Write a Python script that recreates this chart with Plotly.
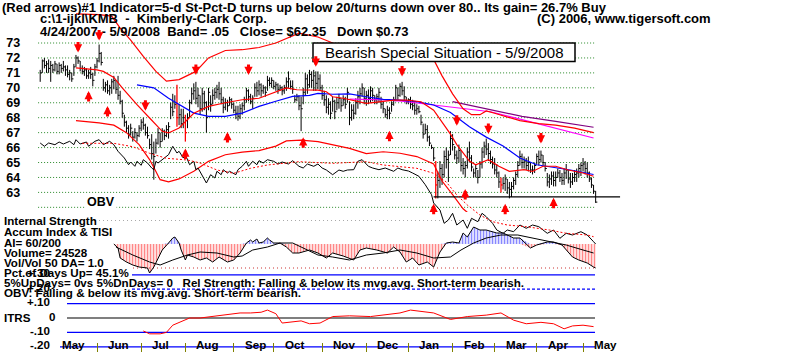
import plotly.graph_objects as go
import numpy as np

# ---------------- DATA (trading-day index 0 = 4/24/2007 ... 264 = 5/9/2008) ----------------
high = [71.2, 71.9, 72.0, 71.8, 71.9, 71.8, 71.6, 71.8, 71.6, 71.7,
        71.6, 71.8, 71.5, 71.5, 71.2, 71.0, 71.6, 72.2, 72.1, 71.8,
        71.5, 71.4, 71.3, 71.2, 71.4, 71.0, 71.6, 72.0, 72.9, 72.4,
        70.6, 70.4, 70.5, 70.2, 70.6, 70.8, 70.5, 70.8, 69.8, 69.2,
        68.2, 67.8, 67.5, 67.6, 67.1, 67.3, 67.0, 67.5, 67.9, 68.0,
        67.6, 67.4, 66.6, 66.9, 66.4, 66.6, 67.3, 67.0, 67.3, 67.2,
        67.5, 67.7, 69.0, 69.6, 69.5, 70.2, 68.9, 68.6, 68.6, 68.2,
        68.3, 69.2, 70.0, 70.3, 70.4, 70.0, 69.5, 70.0, 69.8, 69.1,
        70.0, 69.5, 69.9, 70.0, 70.2, 70.4, 70.0, 69.4, 69.3, 69.2,
        69.4, 69.3, 69.0, 68.8, 68.8, 68.9, 69.0, 69.4, 70.0, 69.9,
        69.6, 69.5, 70.3, 70.4, 70.5, 70.3, 70.2, 70.1, 70.8, 70.7,
        70.7, 70.5, 70.4, 70.3, 70.2, 70.1, 70.2, 70.7, 71.1, 70.5,
        70.5, 69.5, 69.6, 69.5, 69.4, 70.0, 71.0, 70.9, 71.2, 71.1,
        71.2, 71.1, 71.1, 70.9, 70.2, 69.8, 69.5, 69.3, 69.1, 69.4,
        69.2, 69.4, 69.6, 69.3, 69.5, 69.4, 70.0, 69.1, 68.9, 68.9,
        69.3, 69.8, 70.0, 70.3, 70.0, 69.8, 69.9, 70.1, 70.0, 69.5,
        69.6, 70.0, 69.4, 69.1, 68.6, 68.8, 68.7, 69.1, 69.4, 70.2,
        70.0, 70.3, 70.4, 70.1, 69.4, 69.3, 69.4, 69.2, 69.1, 68.9,
        68.8, 68.2, 67.6, 67.6, 67.5, 66.8, 66.2, 66.0, 65.1, 64.4,
        65.1, 64.9, 65.8, 66.0, 65.8, 67.1, 66.9, 66.1, 65.8, 66.2,
        65.8, 65.3, 65.1, 66.0, 66.4, 65.5, 64.6, 64.9, 64.5, 65.1,
        66.0, 66.4, 66.6, 66.3, 65.8, 65.4, 65.3, 64.9, 64.4, 64.0,
        64.0, 64.2, 63.9, 63.7, 63.7, 64.0, 64.4, 65.1, 65.8, 65.6,
        65.4, 65.3, 65.4, 65.0, 64.8, 65.0, 65.6, 65.8, 65.8, 65.5,
        65.0, 64.3, 64.2, 64.4, 64.4, 64.4, 64.6, 64.5, 64.3, 64.6,
        64.9, 64.5, 64.3, 64.3, 64.5, 64.6, 64.9, 65.0, 65.3, 65.1,
        65.0, 64.4, 64.0, 63.5, 63.1]
low = [70.4, 71.0, 71.3, 71.0, 71.0, 70.4, 71.0, 71.1, 70.9, 70.9,
       71.0, 71.1, 70.8, 70.7, 70.5, 70.4, 70.8, 71.4, 71.6, 71.1,
       70.9, 70.8, 70.6, 70.6, 70.6, 70.1, 70.8, 71.3, 71.7, 71.5,
       69.8, 69.7, 69.6, 69.5, 69.6, 69.9, 69.6, 69.2, 68.9, 68.0,
       67.4, 67.0, 66.6, 66.8, 66.4, 66.6, 66.4, 66.7, 67.1, 67.2,
       66.8, 66.6, 65.9, 65.2, 63.85, 65.6, 66.2, 66.0, 66.4, 66.5,
       66.7, 66.6, 67.9, 68.1, 68.6, 67.4, 67.5, 67.3, 67.3, 66.4,
       67.3, 68.0, 68.9, 69.2, 68.9, 68.7, 68.2, 68.4, 68.5, 67.0,
       68.5, 68.4, 68.9, 69.2, 69.3, 69.2, 68.9, 68.3, 68.5, 68.4,
       68.8, 68.6, 68.3, 67.9, 67.8, 67.9, 68.2, 68.5, 69.0, 69.1,
       68.9, 68.6, 69.4, 69.4, 69.5, 69.4, 69.6, 69.4, 69.8, 70.1,
       70.0, 69.9, 69.8, 69.6, 69.8, 69.5, 69.6, 69.8, 70.0, 69.9,
       69.6, 69.0, 69.1, 68.5, 67.1, 68.9, 69.5, 69.6, 70.0, 70.0,
       69.8, 69.8, 69.9, 69.8, 69.2, 68.8, 68.3, 68.2, 67.9, 68.4,
       67.9, 68.5, 68.6, 68.4, 68.8, 68.6, 69.0, 67.5, 67.8, 67.9,
       68.2, 68.6, 68.9, 69.4, 68.9, 68.8, 68.9, 69.0, 69.1, 68.9,
       68.9, 69.0, 68.6, 68.3, 68.0, 67.9, 67.9, 68.4, 68.8, 69.1,
       69.2, 69.4, 69.5, 69.1, 68.9, 68.9, 68.6, 68.5, 68.2, 68.2,
       68.3, 67.5, 66.6, 66.9, 66.4, 66.1, 65.9, 65.1, 62.6, 62.6,
       63.3, 63.5, 64.0, 64.6, 63.7, 65.5, 65.8, 65.2, 64.9, 65.0,
       64.4, 64.2, 64.0, 64.6, 65.0, 64.4, 64.0, 64.0, 63.6, 64.0,
       64.6, 65.3, 65.5, 65.1, 64.9, 64.6, 64.2, 64.0, 63.3, 63.0,
       63.2, 63.1, 62.9, 62.6, 62.7, 63.2, 63.5, 64.0, 64.8, 64.6,
       64.6, 64.5, 64.4, 64.3, 64.2, 64.3, 64.9, 64.8, 65.0, 64.8,
       64.4, 63.4, 63.3, 63.5, 63.4, 63.4, 64.0, 63.7, 63.5, 63.5,
       63.9, 63.6, 63.3, 63.5, 63.7, 63.7, 64.0, 64.1, 64.4, 64.2,
       64.0, 63.7, 63.3, 62.9, 62.3]
close = [71.0, 71.8, 71.5, 71.6, 71.3, 71.5, 71.2, 71.6, 71.1, 71.5,
         71.3, 71.4, 71.2, 70.9, 71.0, 70.6, 71.4, 72.0, 71.8, 71.3,
         71.1, 71.2, 70.8, 71.0, 70.9, 70.5, 71.4, 71.8, 72.3, 71.7,
         70.0, 70.2, 69.8, 70.0, 70.4, 70.5, 69.9, 69.5, 69.1, 68.3,
         67.7, 67.3, 66.9, 67.3, 66.7, 67.0, 66.8, 67.3, 67.7, 67.5,
         67.0, 66.8, 66.2, 65.6, 65.4, 66.3, 67.0, 66.4, 67.1, 66.8,
         67.2, 67.4, 68.7, 68.4, 68.9, 68.0, 68.2, 67.6, 68.0, 67.0,
         68.0, 69.0, 69.6, 69.8, 69.3, 69.5, 68.6, 69.6, 69.0, 68.0,
         69.7, 68.9, 69.5, 69.7, 69.9, 69.6, 69.2, 68.7, 69.0, 68.8,
         69.2, 68.9, 68.5, 68.3, 68.1, 68.6, 68.8, 69.2, 69.8, 69.4,
         69.1, 69.3, 70.0, 69.8, 70.2, 69.8, 70.0, 69.7, 70.5, 70.3,
         70.5, 70.1, 70.2, 69.9, 70.0, 69.8, 70.0, 70.4, 70.6, 70.1,
         69.9, 69.2, 69.4, 68.8, 68.6, 69.7, 70.6, 70.2, 70.9, 70.5,
         70.8, 70.3, 70.6, 70.0, 69.5, 69.2, 68.7, 68.9, 68.3, 69.1,
         68.4, 69.0, 69.3, 68.8, 69.2, 68.9, 69.7, 68.0, 68.5, 68.3,
         69.0, 69.4, 69.6, 70.0, 69.3, 69.5, 69.3, 69.8, 69.5, 69.2,
         69.4, 69.7, 68.9, 68.6, 68.2, 68.5, 68.3, 68.9, 69.2, 70.0,
         69.5, 70.1, 69.8, 69.4, 69.1, 69.2, 68.9, 68.8, 68.5, 68.6,
         68.4, 67.7, 66.9, 67.2, 66.7, 66.3, 66.0, 65.3, 63.5, 63.8,
         64.6, 64.2, 65.4, 65.2, 65.5, 66.6, 66.2, 65.5, 65.3, 65.8,
         64.8, 64.6, 64.8, 65.7, 65.3, 64.7, 64.3, 64.6, 64.0, 64.9,
         65.7, 66.1, 65.9, 65.6, 65.2, 64.9, 64.5, 64.3, 63.7, 63.5,
         63.6, 63.9, 63.3, 63.2, 63.4, 63.8, 64.2, 64.8, 65.4, 65.0,
         65.1, 64.8, 65.0, 64.5, 64.5, 64.8, 65.4, 65.2, 65.5, 65.0,
         64.6, 63.7, 63.9, 64.1, 63.8, 64.0, 64.3, 64.0, 63.8, 64.3,
         64.5, 63.9, 63.7, 64.0, 64.2, 64.3, 64.6, 64.8, 64.9, 64.6,
         64.3, 63.9, 63.5, 63.08, 62.35]
red_bar_days = [65, 69, 188, 219]

# 5% bands and moving averages (day, price)
upper_days = [17, 28, 34, 38, 43, 49, 55, 60, 66, 74, 80, 88, 96, 104, 112, 119, 123, 132, 139, 147,
              157, 166, 176, 183, 187, 191, 196, 201, 205, 209, 212, 216, 221, 228, 237, 245, 254, 263]
upper = [74.95, 74.9, 74.8, 74.0, 73.2, 72.1, 71.1, 70.45, 70.55, 71.1, 72.0, 72.5, 72.55, 72.7, 73.0, 73.4,
         73.66, 73.4, 73.0, 72.7, 72.6, 72.5, 72.4, 72.2, 71.9, 70.8, 69.6, 68.6, 68.2, 68.2, 68.45, 68.3,
         68.1, 67.8, 67.6, 67.5, 67.3, 67.0]
mid_days = [17, 27, 30, 35, 39, 46, 52, 58, 61, 66, 73, 80, 88, 96, 104, 111, 117, 122, 128, 132,
            136, 139, 144, 151, 155, 162, 168, 174, 181, 187, 191, 195, 198, 204, 207, 213, 218, 223, 230, 234,
            239, 245, 251, 258, 263]
mid = [71.33, 71.2, 71.1, 70.7, 70.0, 68.87, 67.98, 67.09, 66.98, 67.31, 68.3, 68.76, 69.0, 69.2, 69.3, 69.65,
       70.0, 69.87, 69.87, 69.85, 69.74, 69.4, 69.3, 69.07, 68.96, 69.07, 69.18, 69.18, 69.07, 68.5, 67.7, 66.9,
       66.2, 65.1, 64.85, 65.19, 64.75, 64.41, 64.52, 64.4, 64.75, 64.75, 64.5, 64.3, 64.08]
lower_days = [17, 28, 35, 41, 47, 52, 55, 57, 61, 66, 73, 80, 88, 96, 104, 112, 117, 124, 132, 139,
              147, 155, 163, 171, 179, 187, 191, 196, 201, 207, 214, 223, 238, 263]
lower = [67.8, 67.65, 67.5, 67.0, 66.2, 65.2, 64.4, 63.85, 63.7, 63.9, 64.41, 65.08, 65.52, 65.7, 65.8, 66.1,
         66.45, 66.5, 66.4, 66.17, 65.95, 65.6, 65.72, 65.62, 65.4, 64.9, 63.76, 62.85, 61.9, 61.2, 61.0, 60.8,
         61.0, 60.9]
ma50_days = [46, 54, 61, 66, 73, 80, 88, 96, 104, 112, 120, 128, 132, 139, 147, 155, 163, 171, 179, 187,
             195, 204, 212, 220, 228, 236, 244, 252, 263]
ma50 = [70.2, 70.0, 69.3, 68.87, 68.31, 68.09, 68.09, 68.31, 68.76, 69.1, 69.43, 69.5, 69.63, 69.57, 69.59,
        69.4, 69.23, 69.18, 69.07, 68.85, 68.35, 67.4, 66.7, 66.1, 65.3, 64.85, 64.7, 64.5, 64.2]
mag_days = [147, 162, 172, 184, 198, 214, 229, 245, 263]
mag = [69.25, 69.2, 69.1, 68.9, 68.7, 68.4, 67.87, 67.31, 66.64]
pur_days = [196, 214, 229, 245, 263]
pur = [69.07, 68.54, 68.09, 67.76, 67.36]

support_level = 62.7
support_days = [187, 275.6]

# signal arrows
down_arrow_days = [18, 28, 50, 74, 99, 131, 172, 198, 213, 238]
down_arrow_price = [72.7, 73.5, 68.8, 71.2, 71.2, 71.75, 71.1, 67.8, 67.25, 66.6]
up_arrow_days = [23, 32, 69, 89, 125, 166, 187, 202, 221, 244]
up_arrow_price = [69.45, 68.45, 65.6, 66.7, 66.36, 66.8, 61.9, 62.9, 61.9, 62.3]

# OBV (scaled units) and its moving average
obv_days = [0, 2, 4, 7, 9, 11, 14, 16, 17, 19, 22, 23, 26, 28, 30, 33, 35, 37, 40, 42,
            43, 45, 46, 48, 49, 51, 53, 54, 55, 56, 59, 61, 63, 65, 66, 68, 69, 71, 73, 74,
            75, 77, 79, 81, 83, 84, 86, 87, 89, 90, 93, 94, 96, 98, 99, 101, 103, 104, 106, 108,
            111, 113, 115, 118, 120, 123, 125, 127, 130, 132, 134, 136, 139, 142, 144, 146, 149, 151, 153, 156,
            158, 161, 164, 168, 170, 172, 175, 177, 180, 183, 186, 187, 190, 192, 194, 196, 198, 201, 203, 205,
            208, 210, 212, 215, 217, 220, 222, 225, 228, 231, 234, 237, 241, 244, 247, 250, 253, 257, 260, 263,
            264]
obv = [107, 103.7, 107, 105.3, 108, 106, 108.7, 105.3, 110.3, 106, 108, 103.7, 108.7, 110.3, 105.3, 108.7,
       105.3, 98.7, 92, 85.3, 88, 83.7, 88.7, 84.7, 90.3, 87, 82, 80.3, 88.7, 87, 92, 95.3, 103.7, 97, 98.7,
       92, 95.3, 85.3, 88.7, 80.3, 82, 73.7, 67, 75.3, 72, 78.7, 75.3, 80.3, 77, 78.7, 75.3, 80.3, 83.7, 88.7,
       83.7, 88.7, 85.3, 89.3, 87, 90.3, 88.7, 86, 88, 86, 89.3, 83.7, 82, 86, 83.7, 86, 82, 80, 75.3, 80,
       78.7, 80, 80.3, 88.7, 90.3, 83.7, 82, 80.3, 82, 78.7, 82, 80.3, 79, 77, 73.7, 65.3, 55.3, 47, 40, 26.7,
       30, 36.7, 25, 30, 21.7, 31.7, 28.3, 36.7, 33.3, 26.7, 20, 16.7, 20, 18.3, 25, 21.7, 25, 23.3, 16.7, 20,
       11.7, 16.7, 15, 18.3, 15, 8.3, 6]
obv_ma_days = [20, 35, 44, 52, 60, 70, 76, 84, 92, 100, 108, 123, 139, 155, 163, 171, 179, 187, 193, 198,
               203, 209, 215, 222, 231, 242, 250, 260, 263]
obv_ma = [106.7, 106.7, 103.3, 96.7, 91.7, 90, 87, 80, 76.7, 81.7, 85, 88.3, 86.7, 88.3, 85, 83.3, 81.7,
          76.7, 68, 55, 45, 35, 28.3, 25, 23.3, 20, 16.7, 15, 13.3]

# Accumulation index and its moving average
ai_days = [35, 37, 38, 41, 44, 47, 51, 52, 54, 56, 58, 61, 63, 64, 66, 67, 69, 70, 73, 76,
           79, 82, 85, 89, 92, 95, 98, 100, 101, 103, 104, 106, 108, 109, 111, 114, 117, 120, 123, 128,
           132, 136, 139, 144, 149, 152, 155, 160, 165, 168, 171, 174, 177, 180, 184, 187, 190, 193, 196, 199,
           201, 203, 206, 209, 212, 217, 220, 225, 228, 233, 236, 241, 244, 248, 250, 253, 256, 260, 263, 264]
ai = [0.0, -0.04, -0.14, -0.18, -0.21, -0.23, -0.24, -0.29, -0.23, -0.14, -0.06, 0.01, 0.06, 0.07, 0.01,
      -0.06, -0.16, -0.11, -0.13, -0.16, -0.14, -0.18, -0.13, -0.18, -0.16, -0.09, 0.01, 0.04, 0.02, 0.05,
      0.01, 0.02, 0.06, 0.04, 0.01, 0.01, -0.03, -0.09, -0.09, -0.06, -0.09, -0.14, -0.09, -0.12, -0.16,
      -0.06, -0.04, -0.06, -0.09, -0.03, -0.08, -0.18, -0.14, -0.21, -0.18, -0.23, -0.08, 0.01, 0.02, 0.01,
      0.11, 0.07, 0.17, 0.14, 0.14, 0.11, 0.11, 0.06, 0.06, -0.04, -0.01, 0.02, 0.02, -0.01, -0.06, -0.13,
      -0.16, -0.19, -0.23, -0.24]
ai_ma_days = [36, 44, 52, 57, 63, 70, 76, 84, 92, 96, 101, 108, 114, 120, 124, 132, 139, 147, 155, 163,
              171, 179, 187, 195, 200, 206, 212, 219, 227, 234, 242, 250, 258, 263]
ai_ma = [-0.03, -0.11, -0.18, -0.21, -0.16, -0.11, -0.08, -0.09, -0.13, -0.12, -0.06, -0.03, 0.01, 0.01,
         -0.03, -0.11, -0.13, -0.16, -0.11, -0.09, -0.06, -0.09, -0.14, -0.13, -0.06, 0.01, 0.06, 0.09, 0.09,
         0.06, 0.02, -0.01, -0.06, -0.09]
ai_guides = [0.24, -0.24]

# ITRS (relative strength)
itrs_days = [49, 52, 57, 60, 63, 66, 71, 76, 81, 85, 90, 95, 100, 105, 108, 112, 115, 119, 124, 128,
             133, 139, 147, 157, 162, 171, 176, 187, 195, 203, 212, 219, 225, 231, 238, 244, 249, 253, 258, 263]
itrs = [-0.09, -0.11, -0.11, -0.10, -0.05, -0.03, 0.0, 0.0, 0.01, 0.02, 0.03, 0.035, 0.035, 0.04, 0.055,
        0.03, -0.035, -0.03, -0.02, -0.04, -0.035, 0.01, 0.015, 0.01, 0.02, 0.035, 0.055, 0.035, -0.01, 0.01,
        0.02, 0.035, -0.015, -0.04, -0.03, -0.04, -0.075, -0.055, -0.05, -0.06]
itrs_levels = [0.3, 0.2, 0.1, 0.0, -0.1, -0.2]
itrs_labels = ["+.30", "+.20", "+.10", "0", "-.10", "-.20"]

price_ticks = list(range(63, 74))
grid_levels = list(range(62, 74))
month_starts = [5, 27, 48, 69, 92, 111, 134, 155, 175, 196, 216, 236, 258]
month_labels = ["May", "Jun", "Jul", "Aug", "Sep", "Oct", "Nov", "Dec", "Jan", "Feb", "Mar", "Apr", "May"]

# ---------------- FIGURE ----------------
W, H = 800, 352
FONT = "Liberation Sans"
def py(y):
    return 1 - y / H
def nb(s):
    return s.replace(" ", "\u00a0")

fig = go.Figure()

def line(xs, ys, color, yaxis="y", width=1.0, dash=None):
    fig.add_trace(go.Scatter(x=xs, y=ys, mode="lines", xaxis="x", yaxis=yaxis,
                             line=dict(color=color, width=width, dash=dash),
                             hoverinfo="skip", showlegend=False))

# Accumulation index bars (striped fill) and lines
ai_arr = np.array(ai)
for part, col in ((np.minimum(ai_arr, 0), "#ff0000"), (np.maximum(ai_arr, 0), "#0000ff")):
    fig.add_trace(go.Scatter(x=ai_days, y=part, mode="lines", yaxis="y3", xaxis="x",
                             line=dict(width=0, color=col), fill="tozeroy", fillcolor="rgba(0,0,0,0)",
                             fillpattern=dict(shape="|", fgcolor=col, bgcolor="rgba(0,0,0,0)",
                                              size=3, solidity=0.5),
                             hoverinfo="skip", showlegend=False))
line(ai_days, ai, "black", "y3", 1)
line(ai_ma_days, ai_ma, "black", "y3", 1)

# OBV
line(obv_days, obv, "black", "y2", 1)
line(obv_ma_days, obv_ma, "#ff0000", "y2", 1, "2px,2px")

# ITRS
line(itrs_days, itrs, "#ff0000", "y4", 1)

# Price bars
bx, by, rx, ry = [], [], [], []
for i, (h, l, c) in enumerate(zip(high, low, close)):
    tx, ty = (rx, ry) if i in red_bar_days else (bx, by)
    tx += [i, i, None, i, i + 0.8, None]
    ty += [l, h, None, c, c, None]
fig.add_trace(go.Scatter(x=bx, y=by, mode="lines", line=dict(color="black", width=1),
                         xaxis="x", yaxis="y", hoverinfo="skip", showlegend=False))
fig.add_trace(go.Scatter(x=rx, y=ry, mode="lines", line=dict(color="#ff0000", width=1.3),
                         xaxis="x", yaxis="y", hoverinfo="skip", showlegend=False))

# Bands and averages
line(pur_days, pur, "#800080", "y", 1.2)
line(mag_days, mag, "#ff00ff", "y", 1.2)
line(ma50_days, ma50, "#0000ff", "y", 1.2)
line(upper_days, upper, "#ff0000", "y", 1.2)
line(mid_days, mid, "#ff0000", "y", 1.2)
line(lower_days, lower, "#ff0000", "y", 1.2)
line(support_days, [support_level, support_level], "black", "y", 1.2)

# ---------------- SHAPES ----------------
shapes = []
for g in grid_levels:
    shapes.append(dict(type="line", xref="x", yref="y", x0=-1, x1=264, y0=g, y1=g, layer="below",
                       line=dict(color="#2a8a2a", width=1, dash="1px,2px")))
for lv in itrs_levels:
    x0 = 132 if lv > 0.15 else (60 if lv < -0.15 else 67)
    col = "black" if lv == 0 else "#0000ff"
    dash = "3px,2px" if abs(lv - 0.2) < 1e-9 else None
    shapes.append(dict(type="line", xref="paper", yref="y4", x0=x0 / W, x1=595 / W, y0=lv, y1=lv,
                       layer="below", line=dict(color=col, width=1.2, dash=dash)))
shapes.append(dict(type="line", xref="paper", yref="y3", x0=95 / W, x1=595 / W, y0=ai_guides[0],
                   y1=ai_guides[0], layer="below", line=dict(color="#555555", width=1, dash="1px,3px")))
shapes.append(dict(type="line", xref="paper", yref="y3", x0=133 / W, x1=595 / W, y0=ai_guides[1],
                   y1=ai_guides[1], layer="below", line=dict(color="#cc3333", width=1, dash="1px,3px")))
# title box
shapes.append(dict(type="rect", xref="paper", yref="paper", x0=313 / W, x1=575 / W, y0=py(61.5), y1=py(43),
                   fillcolor="white", line=dict(color="black", width=1.5), layer="above"))

# ---------------- ANNOTATIONS ----------------
ann = []
bold = dict(family=FONT, size=11.6, color="black", weight="bold")
bold_top = dict(family=FONT, size=13, color="black", weight="bold")
top_texts = [
    (0, 7, "(Red arrows)#1 Indicator=5-d St-Pct-D turns up below 20/turns down over 80.. Its gain= 26.7% Buy"),
    (38, 19, "c:\\1-ijkl\\KMB  -  Kimberly-Clark Corp."),
    (535, 19, "(C) 2006, www.tigersoft.com"),
    (38, 31, "4/24/2007 - 5/9/2008  Band= .05   Close= $62.35   Down $0.73"),
]
for x, y, t in top_texts:
    ann.append(dict(x=x / W, y=py(y), xref="paper", yref="paper", text=nb(t), showarrow=False,
                    xanchor="left", yanchor="middle", font=bold_top))
texts = [
    (2, 220, "Internal Strength"),
    (2, 231, "Accum Index & TISI"),
    (2, 242, "AI= 60/200"),
    (2, 252, "Volume= 24528"),
    (2, 262, "Vol/Vol 50 DA= 1.0"),
    (2, 272, "Pct.of Days Up= 45.1%"),
    (2, 282, "5%UpDays= 0vs 5%DnDays= 0   Rel Strength: Falling & below its mvg.avg. Short-term bearish."),
    (2, 292, "OBV: Falling & below its mvg.avg. Short-term bearish."),
    (2, 317, "ITRS"),
]
for x, y, t in texts:
    ann.append(dict(x=x / W, y=py(y), xref="paper", yref="paper", text=nb(t), showarrow=False,
                    xanchor="left", yanchor="middle", font=bold))
ann.append(dict(x=85 / W, y=py(202), xref="paper", yref="paper", text="OBV", showarrow=False,
                xanchor="left", yanchor="middle", font=dict(family=FONT, size=12.5, color="black", weight="bold"),
                bgcolor="white"))
ann.append(dict(x=444 / W, y=py(52.5), xref="paper", yref="paper", text=nb("Bearish Special Situation - 5/9/2008"),
                showarrow=False, xanchor="center", yanchor="middle",
                font=dict(family=FONT, size=15, color="black")))
for lv, lb in zip(itrs_levels, itrs_labels):
    ann.append(dict(x=(57 if lb == "0" else 52) / W, y=lv, xref="paper", yref="y4", text=lb,
                    showarrow=False, xanchor="right", yanchor="middle", font=bold, yshift=2))
for ms, ml in zip(month_starts, month_labels):
    ann.append(dict(x=ms + 4.3, y=py(344), xref="x", yref="paper", text=ml, showarrow=False,
                    xanchor="left", yanchor="middle", font=bold))
for d, p in zip(down_arrow_days, down_arrow_price):
    ann.append(dict(x=d, y=p, xref="x", yref="y", text="", showarrow=True, arrowhead=2, arrowsize=0.55,
                    arrowwidth=3, arrowcolor="#ff0000", ax=0, ay=-12, axref="pixel", ayref="pixel",
                    yshift=-5, standoff=0, startstandoff=0))
for d, p in zip(up_arrow_days, up_arrow_price):
    ann.append(dict(x=d, y=p, xref="x", yref="y", text="", showarrow=True, arrowhead=2, arrowsize=0.55,
                    arrowwidth=3, arrowcolor="#ff0000", ax=0, ay=12, axref="pixel", ayref="pixel",
                    yshift=5, standoff=0, startstandoff=0))

x0px = 40.2 - 2.104
x1px = 40.2 + 2.104 * 276
fig.update_layout(
    width=W, height=H, margin=dict(l=0, r=0, t=0, b=0, pad=0),
    paper_bgcolor="white", plot_bgcolor="rgba(0,0,0,0)", showlegend=False,
    xaxis=dict(domain=[x0px / W, x1px / W], range=[-1, 276], anchor="y4", showgrid=False, zeroline=False,
               showline=False, ticks="inside", ticklen=9, tickwidth=1, tickcolor="#808000",
               tickvals=month_starts[1:], showticklabels=False, fixedrange=True),
    yaxis=dict(domain=[py(212), 1], range=[73 - (212 - 43) / 14.94, 73 + 43 / 14.94], anchor="x",
               showgrid=False, zeroline=False, showline=False, tickvals=price_ticks, ticks="",
               tickfont=dict(family=FONT, size=12.5, color="black", weight="bold"),
               ticklabelstandoff=17, fixedrange=True),
    yaxis2=dict(domain=[py(250), py(100)], range=[0, 150], anchor="x", visible=False),
    yaxis3=dict(domain=[py(275), py(220)], range=[-0.31, 0.24], anchor="x", visible=False),
    yaxis4=dict(domain=[0, py(270)], range=[(318 - 352) / 144, (318 - 270) / 144], anchor="x", visible=False),
    shapes=shapes, annotations=ann,
)
fig.write_html("out.html")
